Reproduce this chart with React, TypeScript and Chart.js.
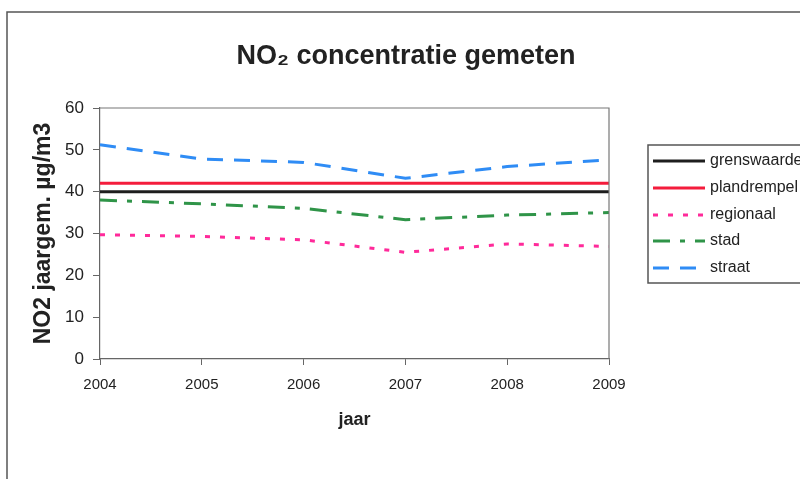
import React, { useEffect, useRef } from "react";
import { Chart, registerables } from "chart.js";

Chart.register(...registerables);

const years = ["2004", "2005", "2006", "2007", "2008", "2009"];
const grenswaarde = [40, 40, 40, 40, 40, 40];
const plandrempel = [42, 42, 42, 42, 42, 42];
const regionaal = [29.7, 29.3, 28.5, 25.5, 27.5, 26.9];
const stad = [38.0, 37.1, 36.0, 33.3, 34.4, 35.0];
const straat = [51.2, 47.8, 47.0, 43.2, 46.0, 47.6];

const seriesNames = ["grenswaarde", "plandrempel", "regionaal", "stad", "straat"];
const seriesColors = ["#1e1e1e", "#f41c3c", "#ff2a9a", "#2f9448", "#2f8cf5"];
const seriesDash: number[][] = [[], [], [5, 10], [17, 10, 5, 10], [16, 11]];

const FONT = "'Liberation Sans', Arial, sans-serif";

const framePlugin = {
  id: "frame",
  beforeDraw(chart: any) {
    const { ctx, width, height } = chart;
    ctx.save();
    ctx.fillStyle = "#ffffff";
    ctx.fillRect(0, 0, width, height);
    ctx.strokeStyle = "#555";
    ctx.lineWidth = 1.5;
    ctx.beginPath();
    ctx.moveTo(7, height);
    ctx.lineTo(7, 12);
    ctx.lineTo(width, 12);
    ctx.stroke();
    ctx.restore();
  },
  afterDatasetsDraw(chart: any) {
    const { ctx, chartArea } = chart;
    ctx.save();
    ctx.strokeStyle = "#777";
    ctx.lineWidth = 1.2;
    ctx.beginPath();
    ctx.moveTo(chartArea.left, chartArea.top);
    ctx.lineTo(chartArea.right, chartArea.top);
    ctx.lineTo(chartArea.right, chartArea.bottom);
    ctx.stroke();
    ctx.restore();
  },
  afterDraw(chart: any) {
    const { ctx } = chart;
    const ds = chart.data.datasets;
    ctx.save();
    ctx.strokeStyle = "#555";
    ctx.lineWidth = 1.5;
    ctx.strokeRect(648, 145, 200, 138);
    const ys = [161, 188, 215, 241, 268];
    ds.forEach((d: any, i: number) => {
      const y = ys[i];
      ctx.strokeStyle = d.borderColor;
      ctx.lineWidth = 3;
      ctx.setLineDash(d.borderDash || []);
      ctx.beginPath();
      ctx.moveTo(653, y);
      ctx.lineTo(705, y);
      ctx.stroke();
      ctx.setLineDash([]);
      ctx.fillStyle = "#222";
      ctx.font = `16px ${FONT}`;
      ctx.textBaseline = "middle";
      ctx.textAlign = "left";
      ctx.fillText(d.label, 710, y);
    });
    ctx.restore();
  },
};

export default function App() {
  const ref = useRef<HTMLCanvasElement | null>(null);

  useEffect(() => {
    if (!ref.current) return;
    const dataArrays = [grenswaarde, plandrempel, regionaal, stad, straat];
    const chart = new Chart(ref.current, {
      type: "line",
      data: {
        labels: years,
        datasets: dataArrays.map((arr, i) => ({
          label: seriesNames[i],
          data: arr,
          borderColor: seriesColors[i],
          backgroundColor: seriesColors[i],
          borderDash: seriesDash[i],
          borderWidth: 3,
          pointRadius: 0,
          tension: 0,
          fill: false,
          yAxisID: "y",
        })),
      },
      options: {
        animation: false,
        responsive: false,
        devicePixelRatio: 1,
        layout: { padding: { left: 12, right: 0, top: 0, bottom: 0 } },
        plugins: {
          legend: { display: false },
          tooltip: { enabled: false },
          title: {
            display: true,
            text: "NO₂ concentratie gemeten",
            color: "#222",
            font: { family: FONT, size: 27, weight: "bold", lineHeight: 1.2 },
            padding: { top: 40, bottom: 35.6 },
          },
        },
        scales: {
          x: {
            type: "category",
            offset: false,
            afterFit: (s: any) => {
              s.height = 120;
            },
            grid: {
              display: true,
              drawOnChartArea: false,
              drawTicks: true,
              tickLength: 6,
              color: "#666",
            },
            border: { display: true, color: "#666", width: 1.2 },
            ticks: {
              color: "#222",
              padding: 11,
              maxRotation: 0,
              font: { family: FONT, size: 15, lineHeight: 1.2 },
            },
            title: {
              display: true,
              text: "jaar",
              color: "#222",
              font: { family: FONT, size: 18, weight: "bold", lineHeight: 1.2 },
              padding: { top: 0, bottom: 48 },
            },
          },
          y: {
            position: "left",
            min: 0,
            max: 60,
            afterFit: (s: any) => {
              s.width = 88;
            },
            grid: {
              display: true,
              drawOnChartArea: false,
              drawTicks: true,
              tickLength: 7,
              color: "#666",
            },
            border: { display: true, color: "#666", width: 1.2 },
            ticks: {
              stepSize: 10,
              color: "#222",
              padding: 9,
              font: { family: FONT, size: 17, lineHeight: 1.2 },
            },
            title: {
              display: true,
              text: "NO2 jaargem. µg/m3",
              color: "#222",
              font: { family: FONT, size: 23, weight: "bold", lineHeight: 1.2 },
              padding: { top: 18, bottom: 0 },
            },
          },
          yRight: {
            position: "right",
            display: true,
            afterFit: (s: any) => {
              s.width = 191;
            },
            grid: { display: false },
            border: { display: false },
            ticks: { display: false },
          },
        },
      },
      plugins: [framePlugin],
    } as any);
    return () => chart.destroy();
  }, []);

  return (
    <div style={{ position: "fixed", left: 0, top: 0, width: 800, height: 479 }}>
      <canvas ref={ref} width={800} height={479} style={{ display: "block" }} />
    </div>
  );
}
